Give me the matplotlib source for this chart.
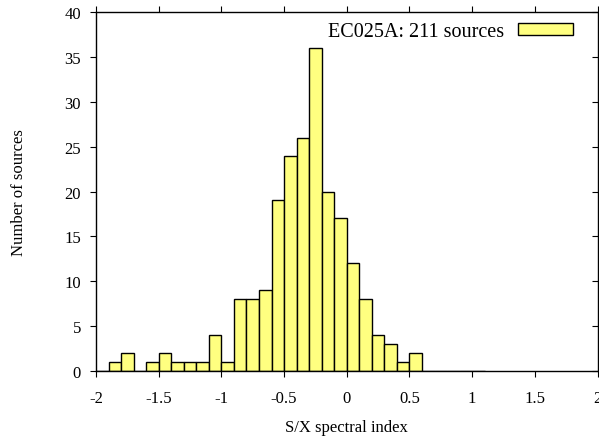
import matplotlib
matplotlib.use("Agg")
import matplotlib.pyplot as plt
import numpy as np

plt.rcParams['font.family'] = ['Liberation Serif', 'DejaVu Serif']

bin_left = [-2.0, -1.9, -1.8, -1.7, -1.6, -1.5, -1.4, -1.3, -1.2, -1.1, -1.0,
            -0.9, -0.8, -0.7, -0.6, -0.5, -0.4, -0.3, -0.2, -0.1, 0.0,
            0.1, 0.2, 0.3, 0.4, 0.5, 0.6, 0.7, 0.8, 0.9, 1.0]
counts = [0, 1, 2, 0, 1, 2, 1, 1, 1, 4, 1,
          8, 8, 9, 19, 24, 26, 36, 20, 17, 12,
          8, 4, 3, 1, 2, 0, 0, 0, 0, 0]
bin_width = 0.1
label = "EC025A: 211 sources"
xticks = [-2, -1.5, -1, -0.5, 0, 0.5, 1, 1.5, 2]
xticklabels = ["-2", "-1.5", "-1", "-0.5", "0", "0.5", "1", "1.5", "2"]
yticks = [0, 5, 10, 15, 20, 25, 30, 35, 40]

fig = plt.figure(figsize=(5.99, 4.39), dpi=100)
ax = fig.add_axes([0.1603, 0.1526, 0.9975 - 0.1603, 0.9704 - 0.1526])
ax.bar(bin_left, counts, width=bin_width, align='edge', color='#ffff80',
       edgecolor='black', linewidth=1.0, label=label)
ax.set_xlim(-2, 2)
ax.set_ylim(0, 40)
ax.set_xticks(xticks)
ax.set_xticklabels(xticklabels)
ax.set_yticks(yticks)
ax.tick_params(axis='x', direction='out', top=True, labelsize=12, length=4, pad=9.6)
ax.tick_params(axis='y', direction='out', right=False, labelsize=12, length=4, pad=6.8)
sec = ax.secondary_yaxis('right')
sec.set_yticks(yticks)
sec.tick_params(direction='in', length=4, labelright=False)
sec.spines['right'].set_visible(False)

ax.set_xlabel("S/X spectral index", fontsize=12)
ax.set_ylabel("Number of sources", fontsize=12)
ax.xaxis.set_label_coords(0.5, -0.1337)
ax.yaxis.set_label_coords(-0.1376, 0.5)
for s in ax.spines.values():
    s.set_linewidth(1.0)
ax.legend(loc='upper right', frameon=False, markerfirst=False, fontsize=14.5,
          handlelength=2.75, handleheight=0.55, handletextpad=0.65,
          borderpad=0, borderaxespad=0,
          bbox_to_anchor=(0.9511, 0.9708))
fig.savefig("out.png", dpi=100)
